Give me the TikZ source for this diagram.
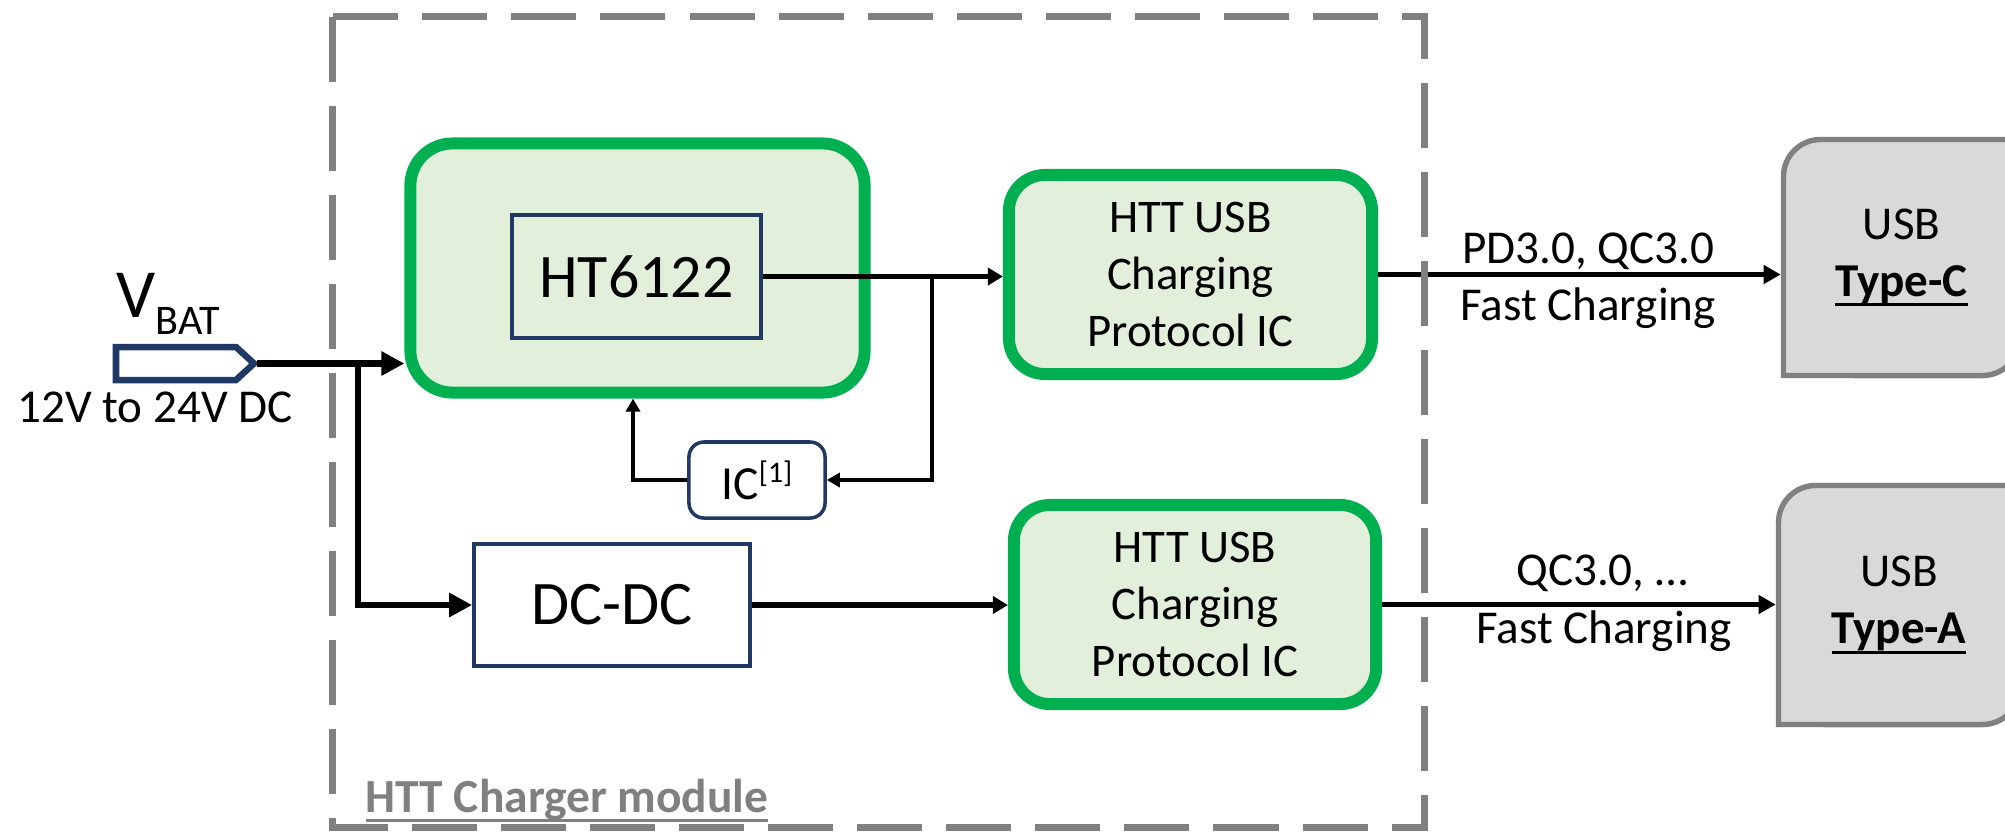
\documentclass[tikz,border=0pt]{standalone}
\usepackage{fontspec}
\setmainfont{Carlito}
\usetikzlibrary{arrows.meta,calc}
\definecolor{ogreen}{HTML}{00B050}
\definecolor{lgreen}{HTML}{E2EFDA}
\definecolor{navy}{HTML}{1F3864}
\definecolor{dgray}{HTML}{808080}
\definecolor{lgray}{HTML}{D9D9D9}
\newcommand\myul[1]{\setbox0\hbox{#1}\rlap{\rule[-2.9pt]{\wd0}{0.85pt}}\box0}
\begin{document}
\begin{tikzpicture}[x=0.01cm, y=-0.01cm,
  greenbox/.style={draw=ogreen, line width=3.4pt, fill=lgreen, rounded corners=0.36cm, inner sep=0pt, align=center, font=\fontsize{13.3}{16.2}\selectfont},
  navybox/.style={draw=navy, line width=1pt, inner sep=0pt},
  wire/.style={line width=1.6pt},
  heavywire/.style={line width=1.9pt},
  thinwire/.style={line width=1pt},
  bigtip/.style={-{Triangle[length=0.23cm,width=0.23cm]}},
  midtip/.style={-{Triangle[length=0.15cm,width=0.17cm]}},
  outtip/.style={-{Triangle[length=0.17cm,width=0.18cm]}},
  smalltip/.style={-{Triangle[length=0.13cm,width=0.14cm]}},
  lbl/.style={inner sep=0pt, font=\fontsize{13.4}{16.2}\selectfont},
  usbbox/.style={draw=dgray, line width=1.55pt, fill=lgray},
  modbox/.style={draw=dgray, line width=2pt, dash pattern=on 0.65cm off 0.24cm},
]
\useasboundingbox (0,0) rectangle (2005,838);
\clip (0,0) rectangle (2005,838);

% main blocks
\node[greenbox, minimum width=4.54cm, minimum height=2.49cm, rounded corners=0.42cm] (ht) at (637.5,268) {};
\node[navybox, minimum width=2.49cm, minimum height=1.23cm, font=\fontsize{17.6}{20}\selectfont] (hti) at (636.5,276.5) {HT6122};
\node[greenbox, minimum width=3.63cm, minimum height=1.99cm] (ic1) at (1190.5,274.5) {HTT USB\\Charging\\Protocol IC};
\node[greenbox, minimum width=3.62cm, minimum height=1.99cm] (ic2) at (1195,604.5) {HTT USB\\Charging\\Protocol IC};
\node[navybox, fill=white, rounded corners=0.15cm, minimum width=1.36cm, minimum height=0.76cm, font=\fontsize{13.5}{16}\selectfont] (icfb) at (757,480) {IC\raisebox{4.8pt}{\fontsize{8.5}{10}\selectfont[1]}};
\node[navybox, fill=white, minimum width=2.76cm, minimum height=1.22cm, font=\fontsize{17.6}{20}\selectfont] (dcdc) at (612,605) {DC-DC};

% USB connectors
\draw[usbbox] (1783.5,375.5) -- (1783.5,176.5) arc[start angle=180,end angle=90,radius=0.37cm] -- (2019.5,139.5) -- (2019.5,338.5) arc[start angle=0,end angle=-90,radius=0.37cm] -- cycle;
\node[lbl, minimum width=2.36cm, minimum height=2.36cm, align=center, outer sep=0.78pt] (typec) at (1901.5,257.5) {USB\\\textbf{\myul{Type-C}}};
\draw[usbbox] (1778.5,724.5) -- (1778.5,522.5) arc[start angle=180,end angle=90,radius=0.37cm] -- (2019.5,485.5) -- (2019.5,687.5) arc[start angle=0,end angle=-90,radius=0.37cm] -- cycle;
\node[lbl, minimum width=2.41cm, minimum height=2.39cm, align=center, outer sep=0.78pt] (typea) at (1899,605) {USB\\\textbf{\myul{Type-A}}};

% VBAT input
\draw[navy, line width=1.85pt, fill=white] (116,347) -- (236,347) -- (254,363.5) -- (236,380) -- (116,380) -- cycle;
\coordinate (vbat) at (257,363.5);
\node[inner sep=0pt, anchor=base west] (vlbl) at (116,317) {\fontsize{19.6}{22}\selectfont V\raisebox{-5pt}{\fontsize{12}{14}\selectfont BAT}};
\node[inner sep=0pt, anchor=base, font=\fontsize{13.4}{15}\selectfont] (vrange) at (155,422) {12V to 24V DC};

% helper coordinates
\coordinate (j1) at (358,363.5);
\coordinate (jx) at (932,0);
\coordinate (fbx) at (633,0);

% connectors
\draw[heavywire, bigtip] (vbat) -- (vbat -| ht.west);
\draw[heavywire, bigtip] (j1) |- (dcdc.west);
\draw[wire, midtip] (hti.east) -- (hti.east -| ic1.west);
\draw[thinwire, smalltip] (jx |- hti.east) |- (icfb.east);
\draw[thinwire, smalltip] (icfb.west) -| (fbx |- ht.south);
\draw[wire, midtip] (dcdc.east) -- (dcdc.east -| ic2.west);
\draw[wire, outtip] (ic1.east) -- (ic1.east -| typec.west);
\draw[wire, outtip] (ic2.east) -- (ic2.east -| typea.west);

% labels on outputs
\node[lbl, anchor=base] (l1) at (1588,263) {PD3.0, QC3.0};
\node[lbl, anchor=base] (l2) at (1588,320) {Fast Charging};
\node[lbl, anchor=base] (l3) at (1602,585) {QC3.0, …};
\node[lbl, anchor=base] (l4) at (1604,643) {Fast Charging};

% module frame
\draw[modbox] (332.5,16.5) rectangle (1424.5,827.5);
\node[inner sep=0pt, anchor=base west, text=dgray, font=\fontsize{13.5}{16}\selectfont\bfseries] (mod) at (365,812) {\myul{HTT Charger module}};
\end{tikzpicture}
\end{document}
